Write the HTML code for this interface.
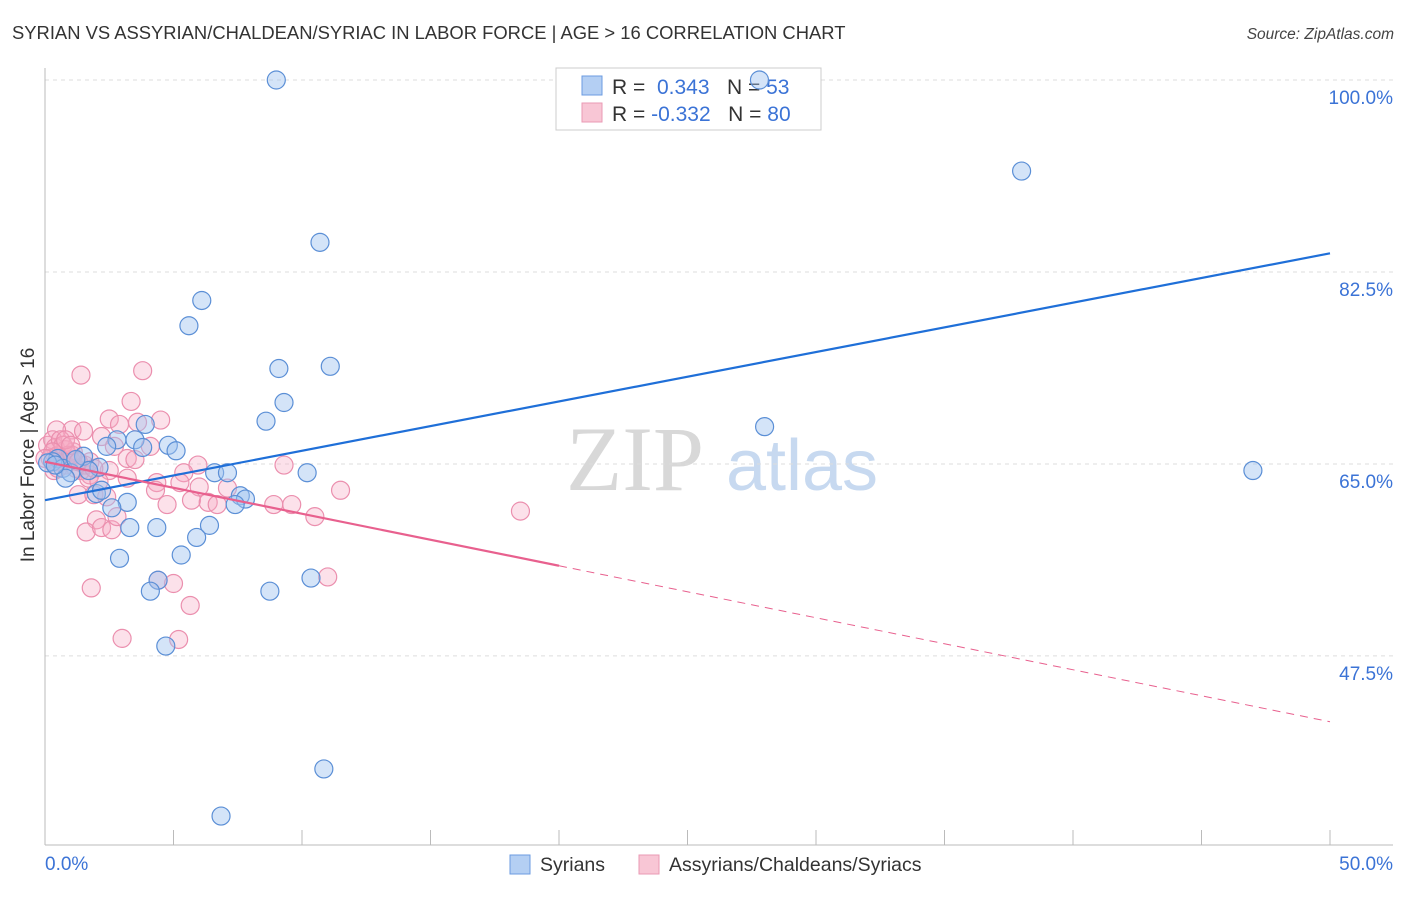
<!DOCTYPE html>
<html><head><meta charset="utf-8"><style>
body{margin:0;background:#fff;font-family:"Liberation Sans",sans-serif}
svg text{font-family:"Liberation Sans",sans-serif}
</style></head><body>
<svg id="chart" width="1406" height="892" viewBox="0 0 1406 892" xmlns="http://www.w3.org/2000/svg">
<text x="12" y="39" font-size="18.4" fill="#333">SYRIAN VS ASSYRIAN/CHALDEAN/SYRIAC IN LABOR FORCE | AGE &gt; 16 CORRELATION CHART</text>
<text x="1394" y="39" font-size="15.5" fill="#444" font-style="italic" text-anchor="end">Source: ZipAtlas.com</text>
<g>
<text x="635" y="490" font-size="92" fill="#d8d8d8" text-anchor="middle" style="font-family:'Liberation Serif',serif">ZIP</text>
<text x="802" y="490" font-size="72" fill="#c7d9f0" text-anchor="middle">atlas</text>
</g>
<g id="grid"></g>
<g id="axes"></g>
<g>
<rect x="556" y="68" width="265" height="62" fill="#fff" stroke="#ccc"/>
<rect x="582" y="76" width="20" height="19" fill="#b4cff3" stroke="#6b9be0"/>
<rect x="582" y="103" width="20" height="19" fill="#f8c6d5" stroke="#ea9ab4"/>
<text x="612" y="94" font-size="21" fill="#333">R = <tspan fill="#3b73d6">&#160;0.343</tspan>&#160;&#160;&#160;N = <tspan fill="#3b73d6">53</tspan></text>
<text x="612" y="121" font-size="21" fill="#333">R = <tspan fill="#3b73d6">-0.332</tspan>&#160;&#160;&#160;N = <tspan fill="#3b73d6">80</tspan></text>
</g>
<g id="marks"></g>
<text transform="translate(34,455) rotate(-90)" font-size="19" fill="#333" text-anchor="middle">In Labor Force | Age &gt; 16</text>
<text x="45" y="870" font-size="19" fill="#3b73d6">0.0%</text>
<text x="1393" y="870" font-size="19" fill="#3b73d6" text-anchor="end">50.0%</text>
<g>
<rect x="510" y="855" width="20" height="19" fill="#b4cff3" stroke="#6b9be0"/>
<text x="540" y="871" font-size="19.5" fill="#333">Syrians</text>
<rect x="639" y="855" width="20" height="19" fill="#f8c6d5" stroke="#ea9ab4"/>
<text x="669" y="871" font-size="19.5" fill="#333">Assyrians/Chaldeans/Syriacs</text>
</g>
</svg>
<script>
const yTicks=[100,82.5,65,47.5];
const yTickLabels=["100.0%","82.5%","65.0%","47.5%"];
const blueX=[9.0,27.8,38.0,10.7,6.1,5.6,9.1,11.1,9.3,8.6,28.0,3.9,2.8,3.5,3.8,4.8,5.1,2.4,1.5,0.5,0.3,0.1,0.7,1.0,0.8,2.1,6.6,7.1,10.2,47.0,2.0,3.2,7.6,7.8,7.4,2.6,3.3,4.35,6.4,5.9,5.3,2.9,4.4,4.1,8.75,10.35,4.7,10.85,6.85,1.7,2.2,1.2,0.4];
const blueY=[100,100,91.7,85.2,79.9,77.6,73.7,73.9,70.6,68.9,68.4,68.6,67.2,67.2,66.5,66.7,66.2,66.6,65.7,65.5,65.2,65.1,64.6,64.2,63.7,64.7,64.2,64.2,64.2,64.4,62.3,61.5,62.1,61.8,61.3,61.0,59.2,59.2,59.4,58.3,56.7,56.4,54.4,53.4,53.4,54.6,48.4,37.2,32.9,64.4,62.6,65.4,64.9];
const pinkX=[1.4,3.8,3.35,2.5,2.9,3.6,4.5,1.05,1.5,0.45,2.2,2.7,3.2,4.1,3.5,1.1,1.75,2.5,3.2,4.35,4.3,4.75,5.95,5.4,5.25,6.0,5.7,6.35,6.7,7.1,9.3,8.9,9.6,10.5,11.5,1.3,1.9,2.4,2.0,1.6,2.2,2.6,2.8,1.8,4.4,5.0,5.65,3.0,5.2,11.0,18.5,0.1,0.3,0.4,0.5,0.2,0.7,0.8,1.0,0.35,0.6,0.8,1.2,1.4,1.55,1.75,0.7,0.9,0.45,1.05,1.3,1.7,1.9,2.1,0.8,0.3,0.5,0.0,1.0];
const pinkY=[73.1,73.5,70.7,69.1,68.6,68.8,69.0,68.1,68.0,68.1,67.5,66.6,65.5,66.6,65.4,66.1,64.0,64.4,63.7,63.3,62.6,61.3,64.9,64.2,63.3,62.9,61.7,61.5,61.3,62.8,64.9,61.3,61.3,60.2,62.6,62.2,62.2,62.0,59.9,58.8,59.2,59.0,60.2,53.7,54.4,54.1,52.1,49.1,49.0,54.7,60.7,66.7,67.2,66.5,65.8,65.5,65.2,64.9,65.4,64.4,67.2,66.3,64.6,64.4,64.9,65.2,66.7,65.8,65.2,65.8,65.2,63.7,64.6,63.4,67.2,66.1,64.6,65.5,66.7];
const blueTrend=[61.7,84.2];
const pinkTrend=[65.2,41.5];
const pinkSolidEnd=20.0;

const NS="http://www.w3.org/2000/svg";
const X0=45,X1=1330,Y100=80,PPU=10.97;
function sx(v){return X0+(v/50)*(X1-X0);}
function sy(v){return Y100+(100-v)*PPU;}
function mk(tag,attrs,parent){const e=document.createElementNS(NS,tag);for(const k in attrs)e.setAttribute(k,attrs[k]);parent.appendChild(e);return e;}
const grid=document.getElementById('grid'),axes=document.getElementById('axes'),marks=document.getElementById('marks');
yTicks.forEach((t,i)=>{
 const l=mk('line',{x1:45,x2:1393,y1:sy(t),y2:sy(t),stroke:'#ddd','stroke-dasharray':'4,4'},grid);
 
 
 const tx=mk('text',{x:1393,y:sy(t)+24,'font-size':19,fill:'#3b73d6','text-anchor':'end'},axes);
 tx.textContent=yTickLabels[i];
 
 
});
mk('line',{x1:45,x2:45,y1:68,y2:845,stroke:'#bbb'},axes);
mk('line',{x1:45,x2:1393,y1:845,y2:845,stroke:'#bbb'},axes);
for(let i=0;i<=10;i++){
 const t=mk('line',{x1:sx(i*5),x2:sx(i*5),y1:830,y2:845,stroke:'#bbb'},axes);
 
 
}
function dots(xs,ys,fill,stroke,name){
 xs.forEach((x,i)=>{
  const c=mk('circle',{cx:sx(x),cy:sy(ys[i]),r:9,fill:fill,stroke:stroke,'stroke-width':1.2},marks);
  
  
 });
}
dots(pinkX,pinkY,'rgba(245,168,195,0.35)','#eb8fae','assyrian-point');
dots(blueX,blueY,'rgba(160,196,240,0.45)','#5b8fd6','syrian-point');
const bl=mk('line',{x1:sx(0),y1:sy(blueTrend[0]),x2:sx(50),y2:sy(blueTrend[1]),stroke:'#1f6fd8','stroke-width':2.2},marks);


const pe=pinkTrend[0]+(pinkTrend[1]-pinkTrend[0])*pinkSolidEnd/50;
const pl=mk('line',{x1:sx(0),y1:sy(pinkTrend[0]),x2:sx(pinkSolidEnd),y2:sy(pe),stroke:'#e8608e','stroke-width':2.2},marks);


const pd=mk('line',{x1:sx(pinkSolidEnd),y1:sy(pe),x2:sx(50),y2:sy(pinkTrend[1]),stroke:'#e8608e','stroke-width':1,'stroke-dasharray':'8,6'},marks);


</script>
</body></html>
